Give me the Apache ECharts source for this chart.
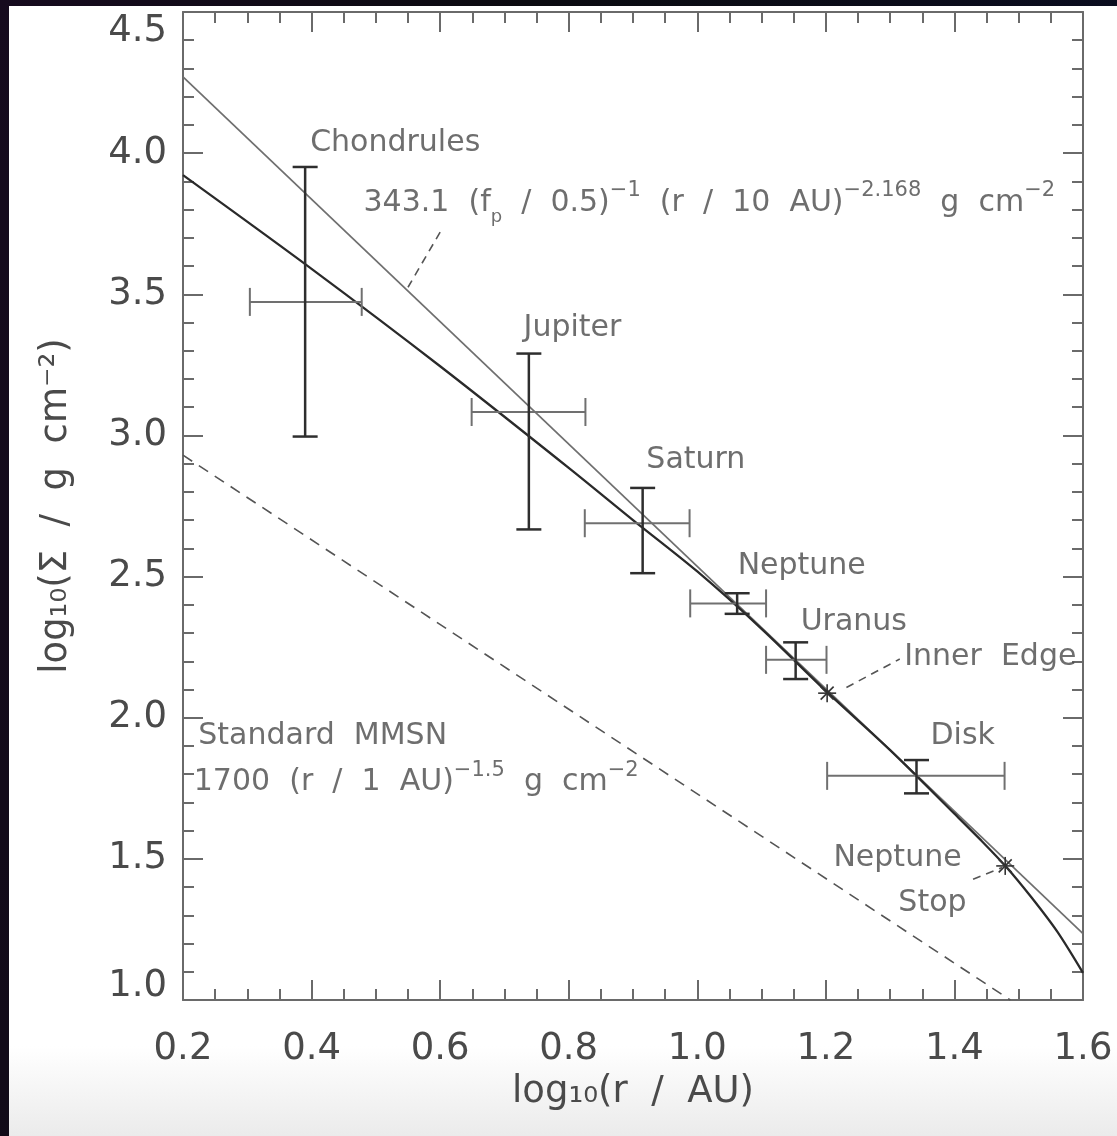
<!DOCTYPE html>
<html><head><meta charset="utf-8">
<script src="https://cdn.jsdelivr.net/npm/echarts@6/dist/echarts.min.js"></script>
<style>
html,body{margin:0;padding:0;width:1117px;height:1136px;overflow:hidden;
  background:linear-gradient(100deg,#160b1e 0%,#0b0b10 40%,#0a0d24 100%);}
#chart{position:absolute;left:9px;top:6px;width:1108px;height:1130px;
  background:linear-gradient(180deg,#ffffff 0px,#ffffff 1040px,#ebebeb 1130px);}
</style></head><body><div id="chart"></div>
<script>
// ---- data ----
const xRange = [0.2, 1.6];
const yRange = [1.0, 4.5];
// thick model curve
const modelCurve = [[0.2,3.922],[0.4,3.590],[0.6,3.245],[0.8,2.885],[0.9,2.700],[1.0,2.518],[1.1,2.315],[1.2,2.095],[1.3,1.885],[1.4,1.660],[1.44,1.569],[1.48,1.473],[1.52,1.363],[1.56,1.242],[1.6,1.096]];
// thin power-law fit 343.1 (r/10AU)^-2.168
const powerLawFit = [[0.2,4.270],[1.6,1.235]];
// standard MMSN (dashed)
const mmsn = [[0.2,2.930],[1.487,1.0]];
// bodies with error bars
const bodies    = ['Chondrules','Jupiter','Saturn','Neptune','Uranus','Disk'];
const bodyX     = [0.390,0.738,0.915,1.062,1.153,1.341];
const bodyY     = [3.473,3.083,2.689,2.405,2.205,1.794];
const bodyXLow  = [0.304,0.649,0.825,0.989,1.107,1.202];
const bodyXHigh = [0.478,0.826,0.988,1.107,1.201,1.478];
const bodyYLow  = [2.996,2.667,2.512,2.368,2.137,1.732];
const bodyYHigh = [3.951,3.290,2.814,2.441,2.267,1.850];
// asterisk markers: Inner Edge, Neptune Stop
const markers = [[1.202,2.087],[1.479,1.475]];
// dashed leader lines
const leaders = [
  [[0.600,3.720],[0.550,3.525]],
  [[1.232,2.107],[1.315,2.208]],
  [[1.429,1.428],[1.474,1.469]]
];
// annotation texts (left edge, vertical middle) in data coords
const annoText = ['Chondrules',
  '343.1  (f{sub|p}  /  0.5){sup|−1}  (r  /  10  AU){sup|−2.168}  g  cm{sup|−2}',
  'Jupiter','Saturn','Neptune','Uranus','Inner  Edge','Disk',
  'Standard  MMSN','1700  (r  /  1  AU){sup|−1.5}  g  cm{sup|−2}','Neptune','Stop'];
const annoX = [0.397,0.480,0.729,0.920,1.062,1.160,1.321,1.362,0.223,0.216,1.211,1.312];
const annoY = [4.035,3.823,3.379,2.911,2.535,2.337,2.213,1.933,1.933,1.770,1.504,1.344];

// ---- chart ----
const FONT = 'DejaVu Sans';
const TXT = '#4a4a4a';
const AX = '#6a6a6a';
const chart = echarts.init(document.getElementById('chart'), null, {renderer:'canvas'});

function valueAxis(extra){
  return Object.assign({
    type:'value', scale:true,
    axisLine:{show:true, onZero:false, lineStyle:{color:AX, width:2}},
    axisTick:{show:true, inside:true, length:20, lineStyle:{color:AX, width:2}},
    minorTick:{show:true, length:11, lineStyle:{color:AX, width:2}},
    splitLine:{show:false}, minorSplitLine:{show:false}
  }, extra);
}

const xCommon = {min:xRange[0], max:xRange[1], interval:0.2};
const yCommon = {min:yRange[0], max:yRange[1], interval:0.5};

const errData = bodies.map((b,i)=>[bodyX[i],bodyY[i],bodyXLow[i],bodyXHigh[i],bodyYLow[i],bodyYHigh[i]]);

const option = {
  backgroundColor:'transparent',
  animation:false,
  grid:{left:174, top:6, right:34, bottom:136, outerBoundsMode:'none', containLabel:false},
  xAxis:[
    valueAxis(Object.assign({}, xCommon, {position:'bottom',
      minorTick:{show:true, splitNumber:4, length:11, lineStyle:{color:AX, width:2}},
      axisLabel:{show:true, margin:31, color:TXT, fontFamily:FONT, fontSize:37,
        formatter:v=>v.toFixed(1)},
      name:'log₁₀(r  /  AU)', nameLocation:'middle', nameGap:74,
      nameTextStyle:{color:TXT, fontFamily:FONT, fontSize:37}})),
    valueAxis(Object.assign({}, xCommon, {position:'top',
      minorTick:{show:true, splitNumber:4, length:11, lineStyle:{color:AX, width:2}},
      axisLabel:{show:false}}))
  ],
  yAxis:[
    valueAxis(Object.assign({}, yCommon, {position:'left',
      minorTick:{show:true, splitNumber:5, length:11, lineStyle:{color:AX, width:2}},
      axisLabel:{show:true, margin:16, color:TXT, fontFamily:FONT, fontSize:37,
        formatter:v=>{
          const s=v.toFixed(1);
          if (Math.abs(v-yRange[1])<1e-9) return '{hi|'+s+'}';
          if (Math.abs(v-yRange[0])<1e-9) return '{lo|'+s+'}';
          return s;
        },
        rich:{
          hi:{fontFamily:FONT, fontSize:37, color:TXT, padding:[38,0,0,0]},
          lo:{fontFamily:FONT, fontSize:37, color:TXT, padding:[0,0,28,0]}
        }},
      name:'log₁₀(Σ  /  g  cm⁻²)', nameLocation:'middle', nameGap:108,
      nameTextStyle:{color:TXT, fontFamily:FONT, fontSize:37}})),
    valueAxis(Object.assign({}, yCommon, {position:'right',
      minorTick:{show:true, splitNumber:5, length:11, lineStyle:{color:AX, width:2}},
      axisLabel:{show:false}}))
  ],
  series:[
    {type:'line', name:'MMSN', data:mmsn, symbol:'none', z:2,
      lineStyle:{color:'#555', width:1.6, type:[11,8]}},
    {type:'line', name:'fit', data:powerLawFit, symbol:'none', z:3,
      lineStyle:{color:'#6f6f6f', width:1.7}},
    {type:'line', name:'model', data:modelCurve, symbol:'none', smooth:0.3, z:4,
      lineStyle:{color:'#2a2a2a', width:2.3}},
    ...leaders.map(seg=>({type:'line', data:seg, symbol:'none', z:3,
      lineStyle:{color:'#555', width:1.6, type:[8,6]}})),
    {type:'custom', name:'errors', data:errData, z:5,
      encode:{x:0, y:1},
      renderItem:(params, api)=>{
        const x=api.value(0), y=api.value(1);
        const pL=api.coord([api.value(2),y]), pR=api.coord([api.value(3),y]);
        const pB=api.coord([x,api.value(4)]), pT=api.coord([x,api.value(5)]);
        const hs={stroke:'#707070', lineWidth:2};
        const vs={stroke:'#2e2e2e', lineWidth:2.5};
        const hc=14, vc=12.5;
        return {type:'group', children:[
          {type:'line', shape:{x1:pL[0],y1:pL[1],x2:pR[0],y2:pR[1]}, style:hs},
          {type:'line', shape:{x1:pL[0],y1:pL[1]-hc,x2:pL[0],y2:pL[1]+hc}, style:hs},
          {type:'line', shape:{x1:pR[0],y1:pR[1]-hc,x2:pR[0],y2:pR[1]+hc}, style:hs},
          {type:'line', shape:{x1:pT[0],y1:pT[1],x2:pB[0],y2:pB[1]}, style:vs},
          {type:'line', shape:{x1:pT[0]-vc,y1:pT[1],x2:pT[0]+vc,y2:pT[1]}, style:vs},
          {type:'line', shape:{x1:pB[0]-vc,y1:pB[1],x2:pB[0]+vc,y2:pB[1]}, style:vs}
        ]};
      }},
    {type:'custom', name:'stars', data:markers, z:6,
      encode:{x:0, y:1},
      renderItem:(params, api)=>{
        const p=api.coord([api.value(0),api.value(1)]);
        const r=9, d=r*0.72;
        const st={stroke:'#333', lineWidth:1.6};
        return {type:'group', children:[
          {type:'line', shape:{x1:p[0]-r,y1:p[1],x2:p[0]+r,y2:p[1]}, style:st},
          {type:'line', shape:{x1:p[0],y1:p[1]-r,x2:p[0],y2:p[1]+r}, style:st},
          {type:'line', shape:{x1:p[0]-d,y1:p[1]-d,x2:p[0]+d,y2:p[1]+d}, style:st},
          {type:'line', shape:{x1:p[0]-d,y1:p[1]+d,x2:p[0]+d,y2:p[1]-d}, style:st}
        ]};
      }},
    {type:'scatter', name:'labels', z:7, symbolSize:1, silent:true,
      itemStyle:{color:'rgba(0,0,0,0)'},
      data:annoText.map((t,i)=>({value:[annoX[i],annoY[i]], name:t})),
      label:{show:true, position:'right', distance:0, formatter:p=>p.name,
        color:TXT, fontFamily:FONT, fontSize:30, lineHeight:46,
        rich:{
          sup:{fontFamily:FONT, fontSize:21, lineHeight:22, verticalAlign:'top', color:TXT},
          sub:{fontFamily:FONT, fontSize:18, lineHeight:18, verticalAlign:'bottom', color:TXT}
        }},
      labelLayout:{hideOverlap:false}}
  ]
};
chart.setOption(option);
</script></body></html>
